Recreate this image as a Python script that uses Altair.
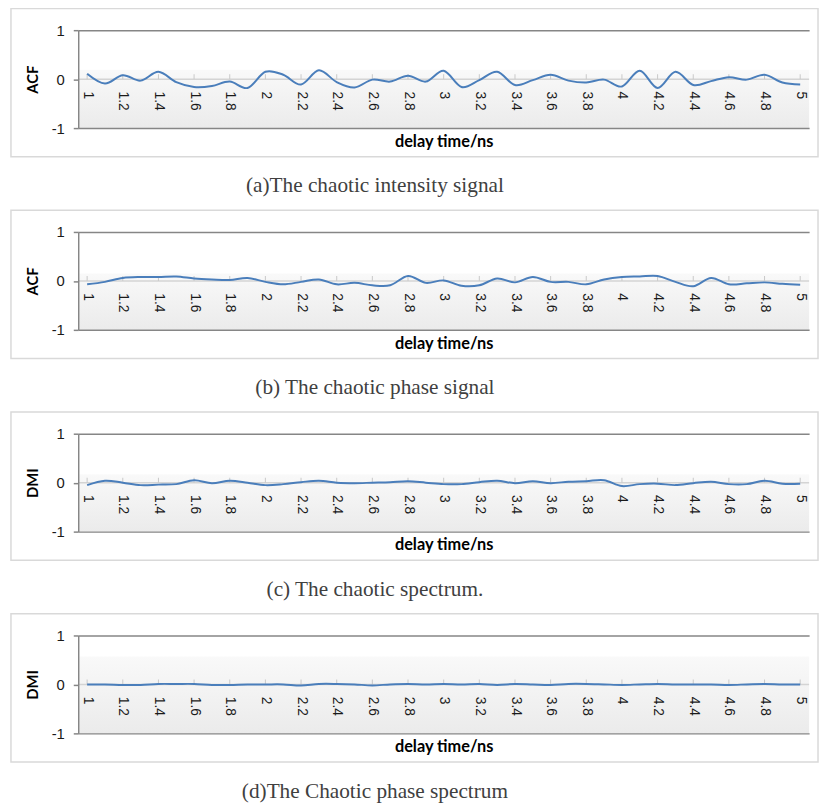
import altair as alt
import pandas as pd

# x categories (delay time, ns)
delay = [1.0, 1.1, 1.2, 1.3, 1.4, 1.5, 1.6, 1.7, 1.8, 1.9, 2.0,
         2.1, 2.2, 2.3, 2.4, 2.5, 2.6, 2.7, 2.8, 2.9, 3.0,
         3.1, 3.2, 3.3, 3.4, 3.5, 3.6, 3.7, 3.8, 3.9, 4.0,
         4.1, 4.2, 4.3, 4.4, 4.5, 4.6, 4.7, 4.8, 4.9, 5.0]

tick_labels = [1.0, 1.2, 1.4, 1.6, 1.8, 2.0, 2.2, 2.4, 2.6, 2.8, 3.0,
               3.2, 3.4, 3.6, 3.8, 4.0, 4.2, 4.4, 4.6, 4.8, 5.0]

# (a) ACF of chaotic intensity signal
acf_intensity = [0.11, -0.09, 0.08, -0.03, 0.15, -0.06, -0.16, -0.14, -0.05, -0.18, 0.15,
                 0.09, -0.11, 0.18, -0.06, -0.17, -0.01, -0.05, 0.07, -0.05, 0.17,
                 -0.16, -0.02, 0.15, -0.12, -0.02, 0.09, -0.03, -0.07, -0.01, -0.15,
                 0.17, -0.18, 0.15, -0.12, -0.04, 0.04, -0.01, 0.09, -0.07, -0.11]

# (b) ACF of chaotic phase signal
acf_phase = [-0.07, -0.02, 0.06, 0.08, 0.08, 0.09, 0.05, 0.03, 0.02, 0.06, -0.02,
             -0.07, -0.02, 0.03, -0.07, -0.04, -0.09, -0.09, 0.10, -0.04, 0.01,
             -0.10, -0.09, 0.05, -0.03, 0.08, -0.02, -0.02, -0.07, 0.03, 0.08,
             0.09, 0.10, -0.02, -0.11, 0.06, -0.07, -0.05, -0.03, -0.06, -0.08]

# (c) DMI of chaotic spectrum
dmi_spectrum = [-0.05, 0.04, 0.00, -0.05, -0.04, -0.03, 0.05, -0.01, 0.04, 0.00, -0.05,
                -0.03, 0.01, 0.04, 0.00, -0.01, 0.00, 0.01, 0.03, 0.00, -0.03,
                -0.03, 0.01, 0.04, -0.01, 0.03, -0.01, 0.02, 0.03, 0.05, -0.07,
                -0.03, -0.02, -0.05, -0.01, 0.02, -0.03, -0.03, 0.04, -0.02, -0.02]

# (d) DMI of chaotic phase spectrum
dmi_phase_spectrum = [0.00, 0.00, -0.01, -0.01, 0.01, 0.01, 0.01, -0.01, -0.01, 0.00, 0.00,
                      0.00, -0.02, 0.01, 0.01, 0.00, -0.02, 0.00, 0.01, 0.00, 0.01,
                      0.00, 0.01, -0.01, 0.01, 0.00, -0.01, 0.01, 0.01, 0.00, -0.01,
                      0.00, 0.01, 0.00, 0.00, 0.00, -0.01, 0.00, 0.01, 0.00, 0.00]

y_titles = ["ACF", "ACF", "DMI", "DMI"]
captions = ["(a)The chaotic intensity signal",
            "(b) The chaotic phase signal",
            "(c) The chaotic spectrum.",
            "(d)The Chaotic phase spectrum"]
series = [acf_intensity, acf_phase, dmi_spectrum, dmi_phase_spectrum]
grad_split = [0.40, 0.42, 0.41, 0.21]

W, H = 739, 99
LINE = "#4a7ebb"
AXIS_GRAY = "#868686"

xscale = alt.Scale(domain=[0.95, 5.05], nice=False, zero=False)
yscale = alt.Scale(domain=[-1, 1], nice=False)

xaxis = alt.Axis(
    values=tick_labels, labelExpr="'' + datum.value",
    labelAngle=90, labelAlign="left", labelBaseline="middle",
    labelFont="Liberation Sans", labelFontSize=14, labelColor="#1a1a1a",
    labelPadding=12, labelFlush=False, labelOverlap=False,
    ticks=False, domain=False, grid=False, offset=-H / 2,
    title="delay time/ns", titleFont="Lato", titleFontSize=16.5,
    titleFontWeight="bold", titleColor="#000000",
    titleY=63, titleBaseline="middle", zindex=1)


def panel(values, ytitle, caption, split):
    df = pd.DataFrame({"delay": delay, "value": values})
    one = pd.DataFrame({"caption": [caption]})
    ticks_df = pd.DataFrame({"delay": tick_labels})

    bg = alt.Chart(one).mark_rect(
        color=alt.LinearGradient(
            gradient="linear", x1=0, x2=0, y1=0, y2=1,
            stops=[alt.GradientStop(offset=0, color="#ffffff"),
                   alt.GradientStop(offset=split, color="#ffffff"),
                   alt.GradientStop(offset=split + 0.01, color="#f9f9f9"),
                   alt.GradientStop(offset=1, color="#ebebeb")])
    ).encode(x=alt.value(0), x2=alt.value("width"),
             y=alt.value(0), y2=alt.value("height"))

    box = alt.Chart(one).mark_rect(
        fillOpacity=0, stroke="#d9d9d9", strokeWidth=1.5
    ).encode(x=alt.value(-68), x2=alt.value(W + 9),
             y=alt.value(-22), y2=alt.value(H + 29))

    zero = alt.Chart(one).mark_rule(color="#d4d4d4", strokeWidth=1.5).encode(
        y=alt.datum(0, scale=yscale),
        x=alt.value(0), x2=alt.value("width"))

    ticks = alt.Chart(ticks_df).mark_rule(color="#c8c8c8", strokeWidth=1).encode(
        x=alt.X("delay:Q", scale=xscale, axis=xaxis),
        y=alt.datum(0, scale=yscale),
        y2=alt.datum(0.1))

    line = alt.Chart(df).mark_line(
        color=LINE, strokeWidth=2, interpolate="cardinal"
    ).encode(
        x=alt.X("delay:Q", scale=xscale, axis=xaxis),
        y=alt.Y("value:Q", scale=yscale, axis=alt.Axis(
            values=[-1, 0, 1], labelExpr="'' + datum.value",
            labelFont="Liberation Sans", labelFontSize=15, labelColor="#1a1a1a",
            labelPadding=9, tickSize=5, tickColor=AXIS_GRAY, tickWidth=1.5,
            domainColor=AXIS_GRAY, domainWidth=1.5,
            grid=True, gridColor=AXIS_GRAY, gridWidth=1.5,
            gridOpacity=alt.condition("datum.value == 0", alt.value(0), alt.value(1)),
            title=ytitle, titleFont="Lato", titleFontSize=15,
            titleFontWeight="bold", titleColor="#000000",
            titleAngle=270, titleX=-46, titleY=H / 2,
            titleAlign="center", titleBaseline="middle", zindex=1)),
    )

    cap = alt.Chart(one).mark_text(
        font="Liberation Serif", fontSize=21.5, color="#404040",
        align="center", baseline="middle"
    ).encode(x=alt.value(300), y=alt.value(H + 59), text="caption:N")

    return alt.layer(bg, box, zero, ticks, line, cap).properties(width=W, height=H)


panels = [panel(v, t, c, s) for v, t, c, s in zip(series, y_titles, captions, grad_split)]

chart = alt.vconcat(*panels, spacing=12).properties(
    padding={"left": 2, "top": -5, "right": 0, "bottom": 0}
).configure_view(stroke=None)

chart.save("out.html", embed_options={"renderer": "svg", "actions": False})
